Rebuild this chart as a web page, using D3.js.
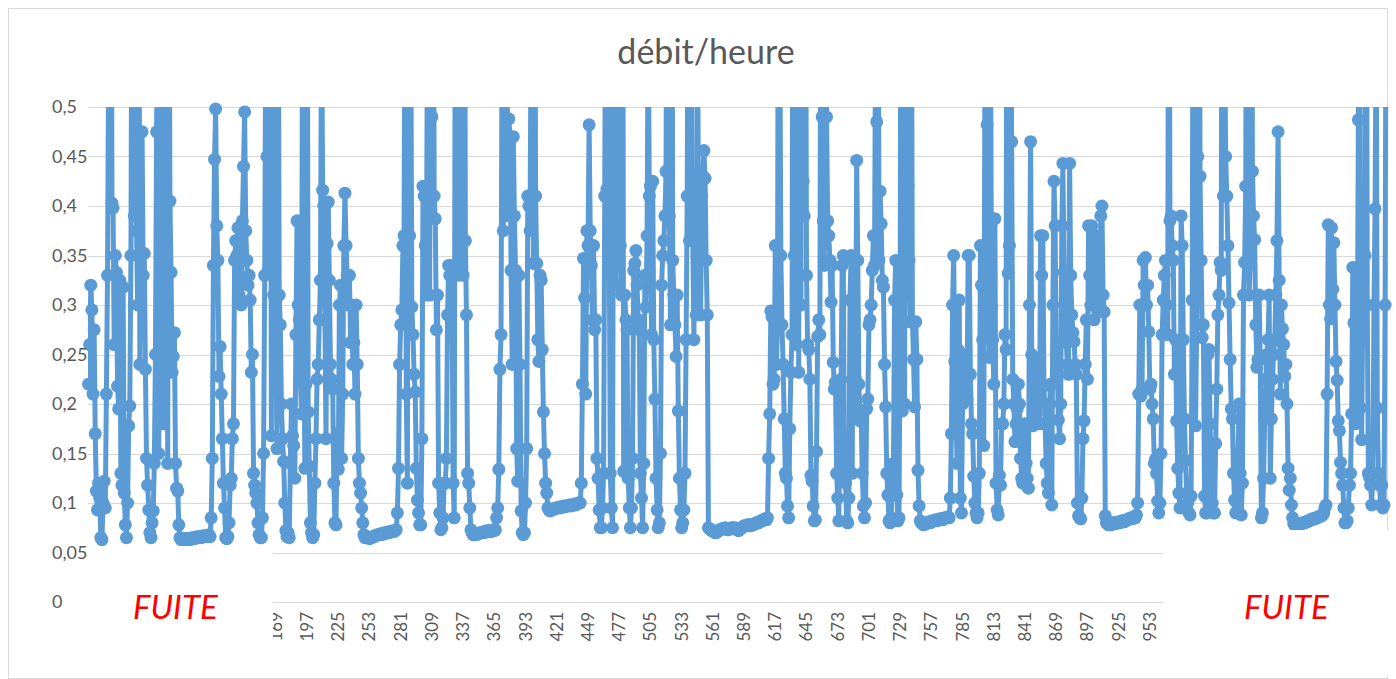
<!DOCTYPE html>
<html>
<head>
<meta charset="utf-8">
<script src="https://cdn.jsdelivr.net/npm/d3@7"></script>
<style>
  body { margin: 0; background: #fff; }
  svg { display: block; font-family: Lato, "Open Sans", sans-serif; }
</style>
</head>
<body>
<div id="chart"></div>
<script>
// débit/heure - one reading per row (>0.5 runs off the top)
const debit001 = [
  0.22, 0.26, 0.32, 0.295, 0.21, 0.275, 0.17, 0.112, 0.093, 0.12,
  0.105, 0.065, 0.063, 0.1, 0.122, 0.095, 0.21, 0.33, 0.55, 0.8,
  0.9, 0.403, 0.398, 0.26, 0.35, 0.333, 0.218, 0.195, 0.325, 0.13,
  0.118, 0.318, 0.11, 0.078, 0.065, 0.1, 0.178, 0.198, 0.35, 0.7,
  0.95, 0.39, 0.62, 0.375, 0.3, 0.85, 0.24, 0.35, 0.475, 0.33,
  0.352, 0.235, 0.145, 0.118, 0.093, 0.07, 0.065, 0.08, 0.092, 0.14,
  0.25, 0.475, 0.62, 0.15, 0.8, 0.24, 0.9, 0.18, 0.7, 0.333,
  0.55, 0.14, 0.75, 0.405, 0.333, 0.232, 0.248, 0.272, 0.14, 0.115,
  0.112, 0.078, 0.065, 0.063, 0.063, 0.064, 0.063, 0.064, 0.064, 0.064,
  0.064, 0.063, 0.064, 0.065, 0.065, 0.064, 0.065, 0.066, 0.065, 0.066
];
const debit101 = [
  0.066, 0.065, 0.066, 0.067, 0.066, 0.067, 0.066, 0.067, 0.068, 0.066,
  0.085, 0.145, 0.34, 0.447, 0.498, 0.38, 0.345, 0.228, 0.258, 0.21,
  0.165, 0.12, 0.095, 0.065, 0.064, 0.066, 0.08, 0.118, 0.125, 0.165,
  0.18, 0.345, 0.365, 0.35, 0.378, 0.31, 0.368, 0.3, 0.385, 0.44,
  0.495, 0.375, 0.345, 0.32, 0.33, 0.305, 0.232, 0.25, 0.13, 0.118,
  0.11, 0.1, 0.08, 0.068, 0.065, 0.065, 0.085, 0.15, 0.33, 0.6,
  0.45, 0.85, 0.337, 0.7, 0.168, 0.9, 0.31, 0.6, 0.28, 0.155,
  0.72, 0.31, 0.28, 0.2, 0.165, 0.142, 0.1, 0.072, 0.066, 0.07,
  0.065, 0.14, 0.2, 0.168, 0.158, 0.125, 0.27, 0.385, 0.3, 0.285,
  0.225, 0.19, 0.65, 0.3, 0.135, 0.22, 0.8, 0.192, 0.137, 0.08
];
const debit201 = [
  0.07, 0.065, 0.068, 0.12, 0.165, 0.225, 0.24, 0.285, 0.325, 0.6,
  0.416, 0.4, 0.285, 0.165, 0.362, 0.404, 0.325, 0.24, 0.225, 0.215,
  0.12, 0.08, 0.078, 0.17, 0.134, 0.3, 0.32, 0.145, 0.21, 0.36,
  0.413, 0.36, 0.33, 0.3, 0.33, 0.262, 0.3, 0.24, 0.262, 0.21,
  0.3, 0.24, 0.145, 0.12, 0.11, 0.095, 0.08, 0.068, 0.065, 0.066,
  0.066, 0.065, 0.064, 0.065, 0.065, 0.066, 0.066, 0.067, 0.067, 0.068,
  0.068, 0.068, 0.069, 0.068, 0.069, 0.07, 0.069, 0.07, 0.07, 0.071,
  0.07, 0.071, 0.071, 0.072, 0.071, 0.072, 0.073, 0.09, 0.135, 0.24,
  0.28, 0.295, 0.36, 0.37, 0.7, 0.21, 0.12, 0.9, 0.37, 0.6,
  0.298, 0.27, 0.23, 0.212, 0.135, 0.103, 0.09, 0.078, 0.078, 0.165
];
const debit301 = [
  0.42, 0.41, 0.36, 0.31, 0.6, 0.41, 0.31, 0.8, 0.49, 0.9,
  0.41, 0.387, 0.275, 0.31, 0.12, 0.09, 0.073, 0.075, 0.085, 0.12,
  0.12, 0.145, 0.29, 0.34, 0.33, 0.29, 0.34, 0.12, 0.085, 0.7,
  0.8, 0.33, 0.34, 0.6, 0.437, 0.365, 0.33, 0.9, 0.365, 0.29,
  0.13, 0.12, 0.095, 0.073, 0.07, 0.068, 0.068, 0.069, 0.068, 0.069,
  0.069, 0.07, 0.07, 0.07, 0.071, 0.07, 0.071, 0.072, 0.071, 0.072,
  0.072, 0.071, 0.072, 0.073, 0.072, 0.073, 0.085, 0.095, 0.134, 0.235,
  0.27, 0.6, 0.375, 0.8, 0.39, 0.65, 0.445, 0.488, 0.47, 0.335,
  0.24, 0.47, 0.39, 0.335, 0.155, 0.122, 0.33, 0.24, 0.092, 0.07,
  0.068, 0.07, 0.1, 0.155, 0.41, 0.4, 0.375, 0.6, 0.9, 0.342
];
const debit401 = [
  0.8, 0.41, 0.342, 0.265, 0.243, 0.33, 0.325, 0.255, 0.192, 0.15,
  0.12, 0.11, 0.095, 0.093, 0.092, 0.093, 0.093, 0.094, 0.094, 0.095,
  0.095, 0.095, 0.096, 0.095, 0.096, 0.096, 0.097, 0.096, 0.097, 0.097,
  0.097, 0.098, 0.098, 0.097, 0.098, 0.098, 0.099, 0.098, 0.099, 0.1,
  0.1, 0.1, 0.12, 0.22, 0.347, 0.307, 0.21, 0.375, 0.36, 0.482,
  0.375, 0.34, 0.285, 0.36, 0.275, 0.285, 0.145, 0.125, 0.093, 0.075,
  0.075, 0.095, 0.13, 0.41, 0.7, 0.417, 0.9, 0.38, 0.13, 0.095,
  0.075, 0.6, 0.358, 0.32, 0.95, 0.38, 0.75, 0.36, 0.31, 0.85,
  0.132, 0.31, 0.285, 0.275, 0.125, 0.095, 0.075, 0.095, 0.145, 0.335,
  0.342, 0.355, 0.32, 0.285, 0.275, 0.13, 0.105, 0.075, 0.14, 0.33
];
const debit501 = [
  0.298, 0.37, 0.6, 0.41, 0.42, 0.27, 0.425, 0.265, 0.205, 0.125,
  0.093, 0.075, 0.08, 0.15, 0.32, 0.35, 0.365, 0.39, 0.435, 0.8,
  0.435, 0.39, 0.28, 0.9, 0.345, 0.31, 0.28, 0.248, 0.31, 0.193,
  0.125, 0.093, 0.075, 0.08, 0.093, 0.13, 0.265, 0.41, 0.75, 0.365,
  0.9, 0.41, 0.365, 0.265, 0.43, 0.29, 0.6, 0.43, 0.345, 0.29,
  0.41, 0.43, 0.456, 0.428, 0.345, 0.29, 0.075, 0.074, 0.073, 0.072,
  0.072, 0.071, 0.07, 0.07, 0.071, 0.072, 0.073, 0.073, 0.074, 0.074,
  0.074, 0.075, 0.074, 0.073, 0.073, 0.074, 0.074, 0.075, 0.075, 0.074,
  0.075, 0.074, 0.073, 0.072, 0.073, 0.074, 0.075, 0.076, 0.077, 0.077,
  0.077, 0.078, 0.078, 0.077, 0.077, 0.078, 0.078, 0.079, 0.079, 0.08
];
const debit601 = [
  0.08, 0.08, 0.081, 0.082, 0.082, 0.083, 0.083, 0.084, 0.083, 0.085,
  0.145, 0.19, 0.294, 0.288, 0.22, 0.225, 0.36, 0.24, 0.28, 0.9,
  0.6, 0.35, 0.28, 0.24, 0.185, 0.13, 0.125, 0.097, 0.085, 0.175,
  0.232, 0.27, 0.8, 0.35, 0.95, 0.26, 0.7, 0.232, 0.85, 0.3,
  0.9, 0.425, 0.39, 0.75, 0.33, 0.26, 0.255, 0.225, 0.128, 0.122,
  0.097, 0.082, 0.083, 0.152, 0.268, 0.285, 0.27, 0.8, 0.49, 0.385,
  0.34, 0.6, 0.49, 0.385, 0.37, 0.345, 0.303, 0.34, 0.242, 0.215,
  0.222, 0.13, 0.105, 0.082, 0.19, 0.225, 0.34, 0.35, 0.13, 0.12,
  0.082, 0.08, 0.105, 0.305, 0.35, 0.13, 0.345, 0.19, 0.225, 0.446,
  0.345, 0.22, 0.183, 0.19, 0.13, 0.097, 0.085, 0.1, 0.195, 0.205
];
const debit701 = [
  0.28, 0.285, 0.3, 0.335, 0.37, 0.34, 0.6, 0.485, 0.9, 0.345,
  0.415, 0.382, 0.325, 0.318, 0.24, 0.197, 0.13, 0.108, 0.082, 0.08,
  0.085, 0.13, 0.14, 0.305, 0.345, 0.108, 0.082, 0.085, 0.3, 0.9,
  0.193, 0.85, 0.2, 0.95, 0.45, 0.42, 0.345, 0.283, 0.7, 0.283,
  0.245, 0.197, 0.283, 0.245, 0.133, 0.097, 0.082, 0.08, 0.079, 0.078,
  0.079, 0.079, 0.08, 0.08, 0.081, 0.08, 0.081, 0.082, 0.082, 0.082,
  0.083, 0.082, 0.083, 0.083, 0.084, 0.084, 0.083, 0.084, 0.085, 0.085,
  0.085, 0.086, 0.085, 0.105, 0.17, 0.3, 0.35, 0.243, 0.2, 0.14,
  0.255, 0.305, 0.105, 0.09, 0.2, 0.25, 0.23, 0.225, 0.205, 0.35,
  0.35, 0.23, 0.18, 0.17, 0.127, 0.1, 0.09, 0.085, 0.09, 0.13
];
const debit801 = [
  0.36, 0.32, 0.265, 0.158, 0.52, 0.8, 0.482, 0.387, 0.247, 0.6,
  0.298, 0.265, 0.22, 0.387, 0.12, 0.093, 0.088, 0.128, 0.118, 0.18,
  0.18, 0.2, 0.27, 0.255, 0.9, 0.332, 0.36, 0.7, 0.465, 0.225,
  0.2, 0.162, 0.18, 0.195, 0.22, 0.2, 0.145, 0.125, 0.12, 0.148,
  0.18, 0.14, 0.125, 0.115, 0.3, 0.465, 0.25, 0.178, 0.2, 0.245,
  0.19, 0.2, 0.218, 0.18, 0.37, 0.33, 0.37, 0.218, 0.18, 0.14,
  0.12, 0.11, 0.2, 0.22, 0.098, 0.3, 0.425, 0.38, 0.25, 0.23,
  0.184, 0.165, 0.2, 0.38, 0.443, 0.333, 0.29, 0.262, 0.24, 0.23,
  0.443, 0.33, 0.29, 0.272, 0.263, 0.24, 0.23, 0.1, 0.087, 0.085,
  0.084, 0.105, 0.165, 0.183, 0.24, 0.285, 0.225, 0.38, 0.33, 0.3
];
const debit901 = [
  0.38, 0.31, 0.285, 0.36, 0.37, 0.31, 0.293, 0.3, 0.39, 0.4,
  0.31, 0.293, 0.087, 0.08, 0.079, 0.078, 0.079, 0.078, 0.079, 0.08,
  0.08, 0.079, 0.08, 0.08, 0.081, 0.08, 0.081, 0.082, 0.082, 0.081,
  0.082, 0.083, 0.083, 0.084, 0.084, 0.085, 0.084, 0.085, 0.086, 0.085,
  0.088, 0.1, 0.21, 0.3, 0.208, 0.215, 0.345, 0.32, 0.348, 0.3,
  0.32, 0.273, 0.215, 0.22, 0.2, 0.185, 0.14, 0.144, 0.13, 0.102,
  0.09, 0.1, 0.15, 0.27, 0.305, 0.33, 0.345, 0.3, 0.27, 0.85,
  0.385, 0.39, 0.36, 0.345, 0.23, 0.265, 0.183, 0.135, 0.11, 0.095,
  0.39, 0.36, 0.265, 0.185, 0.143, 0.11, 0.1, 0.09, 0.088, 0.107,
  0.305, 0.8, 0.6, 0.178, 0.28, 0.45, 0.9, 0.43, 0.345, 0.267
];
const debit1001 = [
  0.28, 0.107, 0.09, 0.09, 0.25, 0.255, 0.18, 0.145, 0.1, 0.09,
  0.09, 0.16, 0.215, 0.29, 0.31, 0.343, 0.335, 0.9, 0.41, 0.6,
  0.45, 0.41, 0.36, 0.302, 0.245, 0.195, 0.185, 0.13, 0.103, 0.09,
  0.1, 0.15, 0.2, 0.13, 0.088, 0.12, 0.31, 0.343, 0.42, 0.85,
  0.7, 0.31, 0.343, 0.9, 0.435, 0.39, 0.366, 0.28, 0.237, 0.245,
  0.31, 0.245, 0.085, 0.09, 0.125, 0.185, 0.225, 0.25, 0.265, 0.31,
  0.125, 0.185, 0.225, 0.25, 0.265, 0.31, 0.365, 0.475, 0.325, 0.21,
  0.3, 0.276, 0.26, 0.228, 0.24, 0.2, 0.135, 0.113, 0.125, 0.098,
  0.085, 0.079, 0.078, 0.078, 0.077, 0.078, 0.078, 0.079, 0.079, 0.08,
  0.08, 0.08, 0.081, 0.081, 0.082, 0.082, 0.083, 0.083, 0.084, 0.084
];
const debit1101 = [
  0.084, 0.085, 0.085, 0.086, 0.086, 0.087, 0.087, 0.088, 0.09, 0.095,
  0.098, 0.21, 0.381, 0.3, 0.286, 0.378, 0.316, 0.363, 0.3, 0.243,
  0.224, 0.183, 0.173, 0.141, 0.13, 0.118, 0.095, 0.08, 0.08, 0.082,
  0.095, 0.118, 0.13, 0.19, 0.338, 0.282, 0.18, 0.19, 0.224, 0.487,
  0.8, 0.196, 0.164, 0.3, 0.397, 0.35, 0.9, 0.3, 0.13, 0.126,
  0.118, 0.098, 0.13, 0.3, 0.397, 0.6, 0.196, 0.13, 0.118, 0.098,
  0.118, 0.095, 0.098, 0.3, 0.7, 0.9, 0.75
];

const debit = [].concat(debit001, debit101, debit201, debit301, debit401, debit501,
  debit601, debit701, debit801, debit901, debit1001, debit1101);

const yTicks = [0, 0.05, 0.1, 0.15, 0.2, 0.25, 0.3, 0.35, 0.4, 0.45, 0.5];
const yTickLabels = ["0", "0,05", "0,1", "0,15", "0,2", "0,25", "0,3", "0,35", "0,4", "0,45", "0,5"];
const tickStep = 28; // every 28th row gets a label (1, 29, 57 ...)
const title = "débit/heure";
const leakLabel = "FUITE";

const W = 1396, H = 679;
const margin = { top: 107, right: 7, bottom: 77, left: 88 };
const plotW = W - margin.left - margin.right;
const plotH = H - margin.top - margin.bottom;

const rows = d3.range(1, debit.length + 1);

const svg = d3.select("#chart").append("svg")
    .attr("width", W)
    .attr("height", H);

// outer chart frame
svg.append("rect")
    .attr("x", 8.5).attr("y", 8.5)
    .attr("width", W - 17).attr("height", H - 9)
    .attr("fill", "none")
    .attr("stroke", "#d9d9d9");

svg.append("text")
    .attr("x", 706)
    .attr("y", 64)
    .attr("text-anchor", "middle")
    .attr("font-size", 34)
    .attr("fill", "#595959")
    .text(title);

const x = d3.scaleBand().domain(rows).range([0, plotW]);
const y = d3.scaleLinear().domain([0, 0.5]).range([plotH, 0]);
const cx = d => x(d) + x.bandwidth() / 2;

const plot = svg.append("g")
    .attr("transform", `translate(${margin.left},${margin.top})`);

// gridlines
plot.append("g")
    .selectAll("line")
    .data(yTicks)
    .enter().append("line")
    .attr("x1", 0).attr("x2", plotW)
    .attr("y1", d => Math.round(y(d)) + 0.5)
    .attr("y2", d => Math.round(y(d)) + 0.5)
    .attr("stroke", "#d9d9d9")
    .attr("stroke-width", 1);

// x labels, rotated
const xAxis = d3.axisBottom(x)
    .tickValues(rows.filter(d => (d - 1) % tickStep === 0))
    .tickSize(0)
    .tickPadding(0);

const xg = plot.append("g")
    .attr("transform", `translate(0,${plotH})`)
    .call(xAxis);
xg.select(".domain").remove();
xg.selectAll("text")
    .attr("transform", "rotate(-90)")
    .attr("x", -10)
    .attr("y", 0)
    .attr("dy", "0.35em")
    .attr("text-anchor", "end")
    .attr("font-size", 17)
    .attr("font-family", "Lato, sans-serif")
    .attr("fill", "#595959");

// series
svg.append("clipPath").attr("id", "clip")
    .append("rect")
    .attr("width", plotW).attr("height", plotH);

const line = d3.line()
    .x((d, i) => cx(rows[i]))
    .y(d => y(d));

plot.append("path")
    .datum(debit)
    .attr("clip-path", "url(#clip)")
    .attr("fill", "none")
    .attr("stroke", "#5b9bd5")
    .attr("stroke-width", 5)
    .attr("stroke-linejoin", "round")
    .attr("d", line);

plot.append("g")
    .selectAll("circle")
    .data(debit.map((v, i) => ({ row: rows[i], v: v })).filter(d => d.v <= 0.5))
    .enter().append("circle")
    .attr("cx", d => cx(d.row))
    .attr("cy", d => y(d.v))
    .attr("r", 6.5)
    .attr("fill", "#5b9bd5");

// white patches pasted over the leak periods
const patches = [
    { x: 70, y: 546, w: 203, h: 130 },
    { x: 1163, y: 530, w: 226, h: 146 }
];
const leakNotes = [{ x: 133 }, { x: 1244 }];

svg.append("g")
    .selectAll("rect")
    .data(patches)
    .enter().append("rect")
    .attr("x", d => d.x).attr("y", d => d.y)
    .attr("width", d => d.w).attr("height", d => d.h)
    .attr("fill", "#fff");

svg.append("g")
    .selectAll("text")
    .data(leakNotes)
    .enter().append("text")
    .attr("x", d => d.x)
    .attr("y", 619)
    .attr("font-size", 33)
    .attr("font-style", "italic")
    .attr("fill", "#ff0000")
    .text(leakLabel);

// y labels last so the left patch doesn't hide them (left aligned like the original)
svg.append("g")
    .selectAll("text")
    .data(yTicks)
    .enter().append("text")
    .attr("x", 52)
    .attr("y", d => margin.top + y(d))
    .attr("dy", "0.35em")
    .attr("font-size", 18)
    .attr("fill", "#595959")
    .text((d, i) => yTickLabels[i]);
</script>
</body>
</html>
